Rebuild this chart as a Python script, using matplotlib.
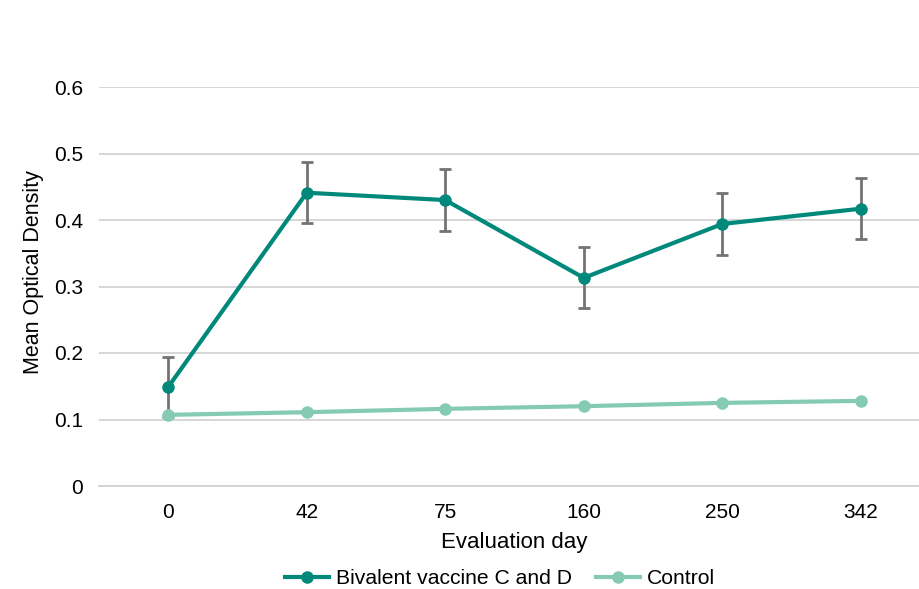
import matplotlib
matplotlib.use("Agg")
import matplotlib.pyplot as plt

plt.rcParams['font.family'] = ['Liberation Sans', 'DejaVu Sans']

days = ["0", "42", "75", "160", "250", "342"]
vaccine = [0.149, 0.441, 0.430, 0.313, 0.394, 0.417]
vaccine_err = [0.045, 0.046, 0.046, 0.046, 0.046, 0.046]
control = [0.107, 0.111, 0.116, 0.120, 0.125, 0.128]
yticks = [0, 0.1, 0.2, 0.3, 0.4, 0.5, 0.6]
ytick_labels = ["0", "0.1", "0.2", "0.3", "0.4", "0.5", "0.6"]

W, H = 919, 589
fig = plt.figure(figsize=(W / 100, H / 100), dpi=100)
ax = fig.add_axes([99 / W, (H - 486) / H, (930 - 99) / W, (486 - 87) / H])

x = list(range(len(days)))
vac_color = "#00897B"
ctl_color = "#85CBB2"

ax.errorbar(x, vaccine, yerr=vaccine_err, fmt='none', ecolor="#737373",
            elinewidth=2, capsize=4, capthick=2, zorder=2)
ax.plot(x, vaccine, color=vac_color, lw=3, marker='o', ms=8,
        label="Bivalent vaccine C and D", zorder=3)
ax.plot(x, control, color=ctl_color, lw=3, marker='o', ms=8,
        label="Control", zorder=3)

ax.set_xlim(-0.5, len(days) - 0.5)
ax.set_ylim(0, 0.6)
ax.set_yticks(yticks)
ax.set_yticklabels(ytick_labels)
ax.set_xticks(x)
ax.set_xticklabels(days)
ax.yaxis.grid(True, color="#D0D0D0", lw=1.2)
ax.set_axisbelow(True)
for s in ["top", "right", "left"]:
    ax.spines[s].set_visible(False)
ax.spines["bottom"].set_color("#D0D0D0")
ax.spines["bottom"].set_linewidth(1.2)
ax.tick_params(axis='both', length=0, labelsize=15, colors="#000000")
ax.tick_params(axis='x', pad=12.5)
ax.tick_params(axis='y', pad=11.5)
ax.set_xlabel("Evaluation day", fontsize=16, labelpad=7)
ax.set_ylabel("Mean Optical Density", fontsize=15.5, va='center')
ax.yaxis.set_label_coords((34 - 99) / 831, (486 - 272) / 399)

fig.legend(loc='center', bbox_to_anchor=(500 / W, 1 - 579 / H), ncol=2,
           frameon=False, fontsize=15.2, handlelength=2.1, handletextpad=0.35,
           columnspacing=1.1)

fig.savefig("out.png", dpi=100)
